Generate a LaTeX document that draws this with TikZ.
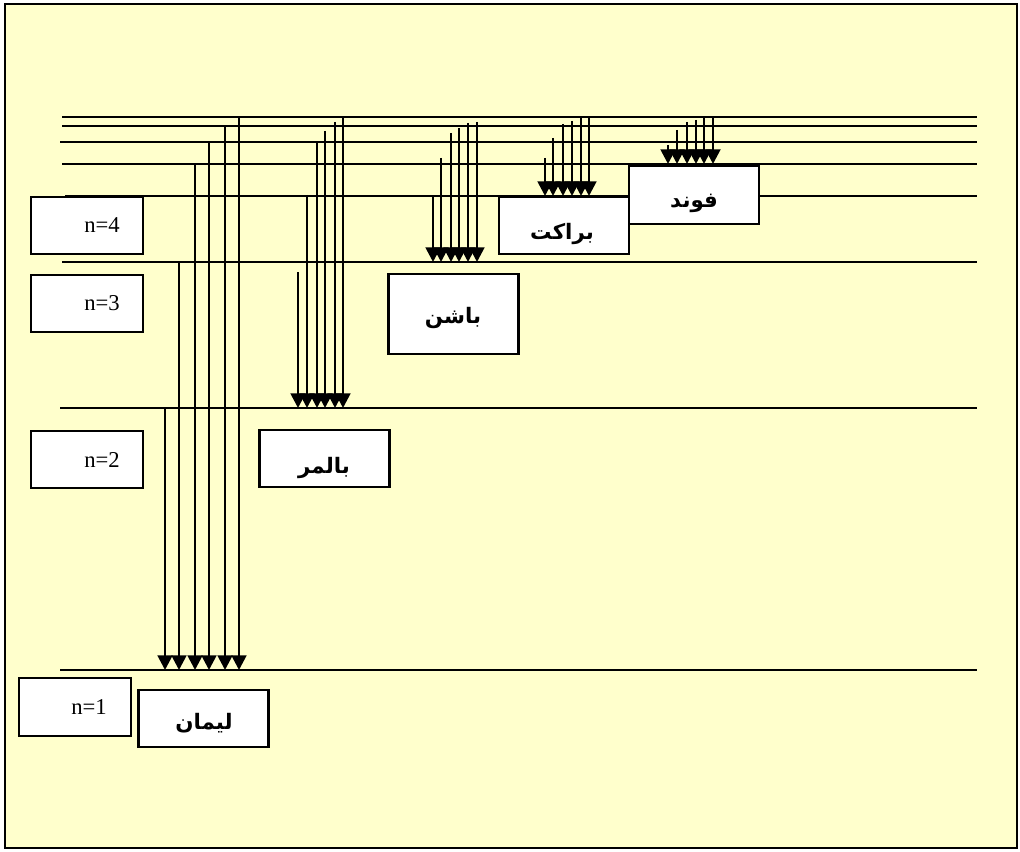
\documentclass[tikz,border=0pt]{standalone}
\usepackage{fontspec}
\setmainfont{Liberation Serif}
\newfontfamily\arabicfont[Script=Arabic]{DejaVu Sans}
\TeXXeTstate=1
\usetikzlibrary{arrows.meta}
\definecolor{paper}{HTML}{FFFFCC}

\begin{document}
\begin{tikzpicture}[x=0.75pt, y=-0.75pt,
  level/.style={line width=1.4pt},
  arr/.style={-{Triangle[length=11pt,width=11pt]}, line width=2.1pt},
  nbox/.style={draw, line width=1.6pt, fill=white, inner sep=0pt,
    minimum width=84pt, minimum height=43pt},
  sbox/.style={draw, line width=1.6pt, fill=white, inner sep=0pt,
    minimum width=97.5pt, minimum height=43pt},
  nlabel/.style={font=\fontsize{17}{20}\selectfont},
  slabel/.style={font=\arabicfont\bfseries\fontsize{16}{19}\selectfont}]
\useasboundingbox (0,0) rectangle (1020,852);
\draw[line width=1.6pt, fill=paper] (5,4) rectangle (1017,848);
% energy levels
\draw[level] (62,117) -- (977,117);
\draw[level] (62,126) -- (977,126);
\draw[level] (60,142) -- (977,142);
\draw[level] (62,164) -- (977,164);
\draw[level] (65,196) -- (977,196);
\draw[level] (62,262) -- (977,262);
\draw[level] (60,408) -- (977,408);
\draw[level] (60,670) -- (977,670);
% lyman
\foreach \x/\y in {165/408, 179/262, 195/164, 209/142, 225/126, 239/117}
  \draw[arr] (\x,\y) -- (\x,670);
% balmer
\foreach \x/\y in {298/272, 307/195, 317/142, 325/131, 335/122, 343/117}
  \draw[arr] (\x,\y) -- (\x,408);
% paschen
\foreach \x/\y in {433/196, 441/158, 451/133, 459/128, 468/123, 477/122}
  \draw[arr] (\x,\y) -- (\x,262);
% brackett
\foreach \x/\y in {545/158, 553/138, 563/124, 572/121, 581/118, 589/117}
  \draw[arr] (\x,\y) -- (\x,196);
% pfund
\foreach \x/\y in {668/145, 677/130, 687/122, 696/120, 704/118, 713/117}
  \draw[arr] (\x,\y) -- (\x,164);
% level boxes
\node[nbox] (n4) at (87,225.5) {};
\node[nbox] (n3) at (87,303.5) {};
\node[nbox] (n2) at (87,459.5) {};
\node[nbox] (n1) at (75,707) {};
\node[nlabel] (tn4) at (102,225.5) {n=4};
\node[nlabel] (tn3) at (102,303) {n=3};
\node[nlabel] (tn2) at (102,460) {n=2};
\node[nlabel] (tn1) at (89,707) {n=1};
% series boxes
\node[sbox] (lyman) at (203.5,718.5) {};
\node[sbox] (balmer) at (324.5,458.5) {};
\node[sbox, minimum height=60pt] (paschen) at (453.5,314) {};
\node[sbox] (brackett) at (564,225.5) {};
\node[sbox] (pfund) at (694,195) {};
\node[slabel] (tlyman) at (204,723) {\beginR لیمان\endR};
\node[slabel] (tbalmer) at (324,468) {\beginR بالمر\endR};
\node[slabel] (tpaschen) at (453,318) {\beginR باشن\endR};
\node[slabel] (tbrackett) at (562,234) {\beginR براکت\endR};
\node[slabel] (tpfund) at (694,203) {\beginR فوند\endR};
\end{tikzpicture}
\end{document}
